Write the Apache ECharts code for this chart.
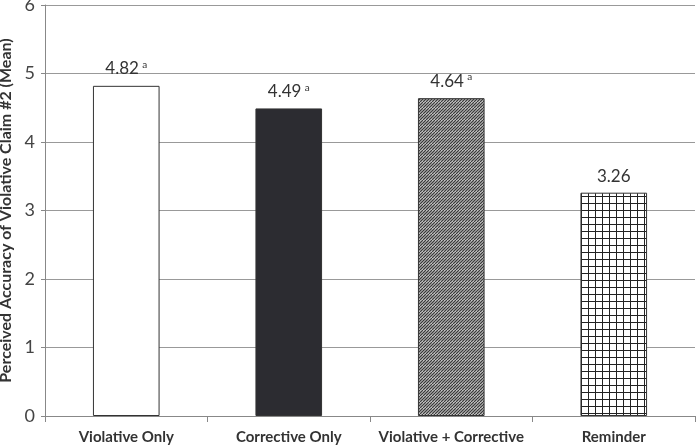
<!DOCTYPE html>
<html lang="en">
<head>
    <meta charset="UTF-8">
    <title>Perceived Accuracy</title>
    <script src="https://cdn.jsdelivr.net/npm/echarts@6/dist/echarts.min.js"></script>
    <style>
        body{margin:0;background:#fff;}
        #chart{width:700px;height:448px;}
    </style>
</head>
<body>
    <div id="chart"></div>
    <script>
        let categories=['Violative Only','Corrective Only','Violative + Corrective','Reminder'];
        let values=[4.82,4.49,4.64,3.26];
        let marks=['a','a','a',''];
        let yTicks=[0,1,2,3,4,5,6];

        function hatch(){
            let c=document.createElement('canvas');
            c.width=6;c.height=6;
            let ctx=c.getContext('2d');
            ctx.fillStyle='#e6e6e6';
            ctx.fillRect(0,0,6,6);
            ctx.strokeStyle='#3a3a3a';
            ctx.lineWidth=1.3;
            for(let k=-12;k<=12;k+=3){
                ctx.beginPath();
                ctx.moveTo(k,6);
                ctx.lineTo(k+6,0);
                ctx.stroke();
            }
            return c;
        }
        function grid(){
            let c=document.createElement('canvas');
            c.width=7;c.height=7;
            let ctx=c.getContext('2d');
            ctx.fillStyle='#fff';
            ctx.fillRect(0,0,7,7);
            ctx.fillStyle='#222';
            ctx.fillRect(0,0,7,1);
            ctx.fillRect(0,0,1,7);
            return c;
        }
        let fills=['#ffffff','#2c2c31',{image:hatch(),repeat:'repeat'},{image:grid(),repeat:'repeat'}];

        let chart=echarts.init(document.getElementById('chart'));
        let font='Lato';
        chart.setOption({
            animation:false,
            grid:{left:45,right:5,top:5,bottom:32,containLabel:false,outerBoundsMode:'none'},
            xAxis:{
                type:'category',
                data:categories,
                axisLine:{lineStyle:{color:'#888'}},
                axisTick:{show:true,length:6,lineStyle:{color:'#888'}},
                axisLabel:{interval:0,color:'#333',fontFamily:font,fontWeight:'bold',fontSize:15,margin:14}
            },
            yAxis:{
                type:'value',
                min:yTicks[0],
                max:yTicks[yTicks.length-1],
                interval:1,
                name:'Perceived Accuracy of Violative Claim #2 (Mean)',
                nameLocation:'middle',
                nameRotate:90,
                nameGap:30,
                nameTextStyle:{color:'#333',fontFamily:font,fontWeight:'bold',fontSize:16},
                axisLine:{show:true,lineStyle:{color:'#888'}},
                axisTick:{show:true,length:4,lineStyle:{color:'#888'}},
                axisLabel:{color:'#444',fontFamily:font,fontSize:18,margin:10},
                splitLine:{lineStyle:{color:'#999'}}
            },
            series:[{
                type:'bar',
                barWidth:'41%',
                data:values.map((v,i)=>({
                    value:v,
                    itemStyle:{color:fills[i],borderColor:'#333',borderWidth:1},
                    label:{
                        show:true,
                        position:'top',
                        distance:8,
                        formatter:marks[i]?'{v|'+v.toFixed(2)+'} {s|'+marks[i]+'}':'{v|'+v.toFixed(2)+'}',
                        rich:{
                            v:{fontFamily:font,fontSize:17,color:'#333'},
                            s:{fontFamily:font,fontSize:10,color:'#333',verticalAlign:'top',padding:[0,0,8,0]}
                        }
                    }
                }))
            }]
        });
    </script>
</body>
</html>
